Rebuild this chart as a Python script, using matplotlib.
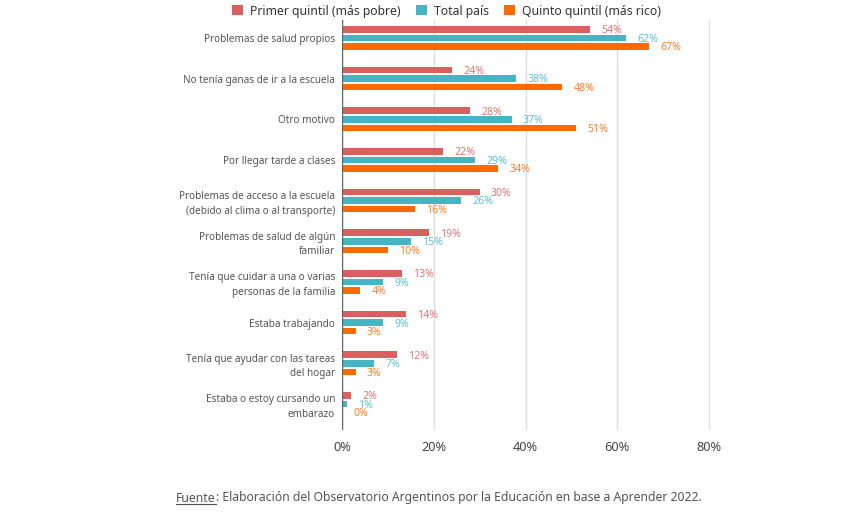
import matplotlib.pyplot as plt
from matplotlib.patches import Patch
from matplotlib.lines import Line2D
import numpy as np

plt.rcParams['font.family'] = ['Noto Sans', 'DejaVu Sans']

categories = [
    "Problemas de salud propios",
    "No tenía ganas de ir a la escuela",
    "Otro motivo",
    "Por llegar tarde a clases",
    "Problemas de acceso a la escuela\n(debido al clima o al transporte)",
    "Problemas de salud de algún\nfamiliar",
    "Tenía que cuidar a una o varias\npersonas de la familia",
    "Estaba trabajando",
    "Tenía que ayudar con las tareas\ndel hogar",
    "Estaba o estoy cursando un\nembarazo",
]
primer = [54, 24, 28, 22, 30, 19, 13, 14, 12, 2]
total = [62, 38, 37, 29, 26, 15, 9, 9, 7, 1]
quinto = [67, 48, 51, 34, 16, 10, 4, 3, 3, 0]
series_names = ["Primer quintil (más pobre)", "Total país", "Quinto quintil (más rico)"]

bar_colors = ['#d9605e', '#45b5c3', '#ff6a00']
label_colors = ['#e07676', '#5cc0cf', '#ff7f24']

fig = plt.figure(figsize=(8.62, 5.31), dpi=100)
ax = fig.add_axes([342 / 862, 1 - 430 / 531, 368 / 862, 410 / 531])

y = np.arange(len(categories))
offsets = [-0.21, 0.0, 0.21]
for vals, off, bc, lc in zip([primer, total, quinto], offsets, bar_colors, label_colors):
    ax.barh(y + off, vals, height=0.16, color=bc, zorder=3)
    for yi, v in zip(y, vals):
        ax.annotate(f"{v}%", (v, yi + off), xytext=(8, -1), textcoords='offset points',
                    ha='left', va='center', fontsize=7.6, color=lc)

ax.set_xlim(0, 80.2)
ax.set_ylim(9.64, -0.44)
ax.set_xticks([0, 20, 40, 60, 80])
ax.set_xticklabels(["0%", "20%", "40%", "60%", "80%"], fontsize=9.2, color='#444444')
ax.set_yticks(y)
ax.set_yticklabels(categories, fontsize=7.2, color='#555555', linespacing=1.45)
ax.tick_params(axis='both', length=0)
ax.tick_params(axis='x', pad=8)
ax.tick_params(axis='y', pad=5)
ax.grid(axis='x', color='#dddddd', linewidth=1, zorder=0)
for s in ax.spines.values():
    s.set_visible(False)
ax.axvline(0, color='#666666', linewidth=1, zorder=4)

handles = [Patch(facecolor=c, edgecolor='none') for c in bar_colors]
fig.legend(handles, series_names, loc='upper center', bbox_to_anchor=(0.518, 1.012), ncol=3,
           frameon=False, fontsize=8.8, handlelength=0.9, handleheight=0.9,
           handletextpad=0.6, columnspacing=1.2, labelcolor='#333333')

fx = 176 / 862
fy = 1 - 498 / 531
t1 = fig.text(fx, fy, "Fuente", fontsize=8.8, color='#555555', va='center')
fig.canvas.draw()
bb = t1.get_window_extent().transformed(fig.transFigure.inverted())
fig.text(bb.x1, fy, ": Elaboración del Observatorio Argentinos por la Educación en base a Aprender 2022.",
         fontsize=8.8, color='#555555', va='center')
fig.add_artist(Line2D([bb.x0, bb.x1], [bb.y0 + 0.001, bb.y0 + 0.001], color='#555555', linewidth=0.8))

fig.savefig("out.png", dpi=100)
